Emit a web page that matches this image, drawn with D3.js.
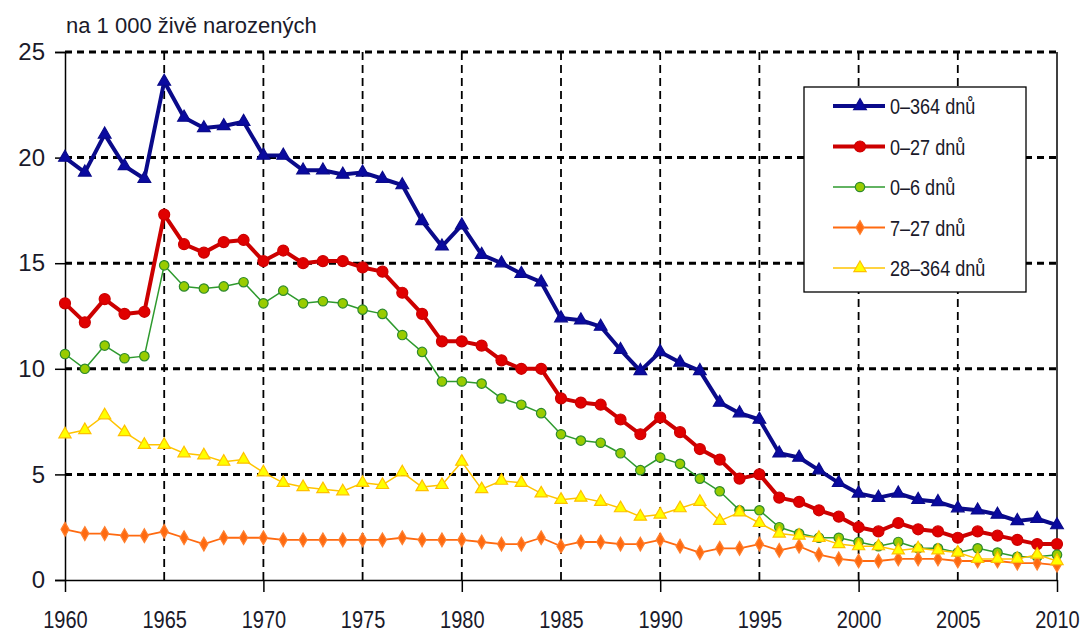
<!doctype html>
<html lang="cs">
  <head>
    <meta charset="utf-8">
    <title>Kojenecká úmrtnost</title>
    <script src="https://cdnjs.cloudflare.com/ajax/libs/d3/7.8.5/d3.min.js"></script>
    <style>
      body { margin: 0; background: #fff; }
      text { font-family: "Liberation Sans", Arial, sans-serif; fill: #1a1a2a; }
    </style>
  </head>
  <body>
    <div id="chart"></div>
    <script>
      // years 1960 - 2010
      var years = d3.range(1960, 2011);

      var s0_364 = [20.0, 19.3, 21.1, 19.6, 19.0, 23.6, 21.9, 21.4, 21.5, 21.7,
                    20.1, 20.1, 19.4, 19.4, 19.2, 19.3, 19.0, 18.7, 17.0, 15.8,
                    16.8, 15.4, 15.0, 14.5, 14.1, 12.4, 12.3, 12.0, 10.9, 9.9,
                    10.8, 10.3, 9.9, 8.4, 7.9, 7.6, 6.0, 5.8, 5.2, 4.6,
                    4.1, 3.9, 4.1, 3.8, 3.7, 3.4, 3.3, 3.1, 2.8, 2.9, 2.6];

      var s0_27 = [13.1, 12.2, 13.3, 12.6, 12.7, 17.3, 15.9, 15.5, 16.0, 16.1,
                   15.1, 15.6, 15.0, 15.1, 15.1, 14.8, 14.6, 13.6, 12.6, 11.3,
                   11.3, 11.1, 10.4, 10.0, 10.0, 8.6, 8.4, 8.3, 7.6, 6.9,
                   7.7, 7.0, 6.2, 5.7, 4.8, 5.0, 3.9, 3.7, 3.3, 3.0,
                   2.5, 2.3, 2.7, 2.4, 2.3, 2.0, 2.3, 2.1, 1.9, 1.7, 1.7];

      var s0_6 = [10.7, 10.0, 11.1, 10.5, 10.6, 14.9, 13.9, 13.8, 13.9, 14.1,
                  13.1, 13.7, 13.1, 13.2, 13.1, 12.8, 12.6, 11.6, 10.8, 9.4,
                  9.4, 9.3, 8.6, 8.3, 7.9, 6.9, 6.6, 6.5, 6.0, 5.2,
                  5.8, 5.5, 4.8, 4.2, 3.3, 3.3, 2.5, 2.2, 2.0, 2.0,
                  1.8, 1.6, 1.8, 1.5, 1.5, 1.3, 1.5, 1.3, 1.1, 1.1, 1.2];

      var s7_27 = [2.4, 2.2, 2.2, 2.1, 2.1, 2.3, 2.0, 1.7, 2.0, 2.0,
                   2.0, 1.9, 1.9, 1.9, 1.9, 1.9, 1.9, 2.0, 1.9, 1.9,
                   1.9, 1.8, 1.7, 1.7, 2.0, 1.6, 1.8, 1.8, 1.7, 1.7,
                   1.9, 1.6, 1.3, 1.5, 1.5, 1.7, 1.4, 1.6, 1.2, 1.0,
                   0.9, 0.9, 1.0, 1.0, 1.0, 0.9, 0.9, 0.9, 0.8, 0.8, 0.7];

      var s28_364 = [6.9, 7.1, 7.8, 7.0, 6.4, 6.4, 6.0, 5.9, 5.6, 5.7,
                     5.1, 4.6, 4.4, 4.3, 4.2, 4.6, 4.5, 5.1, 4.4, 4.5,
                     5.6, 4.3, 4.7, 4.6, 4.1, 3.8, 3.9, 3.7, 3.4, 3.0,
                     3.1, 3.4, 3.7, 2.8, 3.2, 2.7, 2.2, 2.1, 2.0, 1.7,
                     1.6, 1.6, 1.4, 1.5, 1.4, 1.3, 1.0, 1.0, 1.0, 1.2, 0.9];

      var seriesNames = ["0–364 dnů", "0–27 dnů", "0–6 dnů", "7–27 dnů", "28–364 dnů"];
      var yTicks = [0, 5, 10, 15, 20, 25];
      var xTicks = d3.range(1960, 2011, 5);

      var series = [
        { name: seriesNames[0], values: s0_364, line: "#0a0a8a", width: 4, symbol: d3.symbolTriangle, size: 70, fill: "#0a0aa0", stroke: "#0a0a8a" },
        { name: seriesNames[1], values: s0_27, line: "#cc0000", width: 4, symbol: d3.symbolCircle, size: 95, fill: "#e00000", stroke: "#cc0000" },
        { name: seriesNames[2], values: s0_6, line: "#2e9a2e", width: 1.5, symbol: d3.symbolCircle, size: 70, fill: "#99cc00", stroke: "#2e8a2e" },
        { name: seriesNames[3], values: s7_27, line: "#ff6a10", width: 1.8, symbol: d3.symbolDiamond, size: 55, fill: "#ff6a10", stroke: "#ff8030" },
        { name: seriesNames[4], values: s28_364, line: "#ffc400", width: 1.5, symbol: d3.symbolTriangle, size: 65, fill: "#ffff00", stroke: "#ffc000" }
      ];

      var width = 1088, height = 639;
      var margin = { top: 52, right: 31, bottom: 59, left: 65 };

      var svg = d3.select("#chart").append("svg")
          .attr("width", width)
          .attr("height", height);

      var x = d3.scaleLinear()
          .domain([1960, 2010])
          .range([margin.left, width - margin.right]);

      var y = d3.scaleLinear()
          .domain([0, 25])
          .range([height - margin.bottom, margin.top]);

      // unit label
      svg.append("text")
          .attr("x", 66)
          .attr("y", 33)
          .style("font-size", "22px")
          .text("na 1 000 živě narozených");

      // vertical dashed gridlines every 5 years
      svg.append("g")
        .selectAll("line")
        .data(xTicks.filter(d => d > 1960 && d < 2010))
        .enter().append("line")
          .attr("x1", d => x(d))
          .attr("x2", d => x(d))
          .attr("y1", y(25))
          .attr("y2", y(0))
          .attr("stroke", "#000")
          .attr("stroke-width", 1.8)
          .attr("stroke-dasharray", "8,5");

      // horizontal dashed gridlines
      svg.append("g")
        .selectAll("line")
        .data(yTicks.filter(d => d > 0))
        .enter().append("line")
          .attr("x1", x(1960))
          .attr("x2", x(2010))
          .attr("y1", d => y(d))
          .attr("y2", d => y(d))
          .attr("stroke", "#000")
          .attr("stroke-width", 3)
          .attr("stroke-dasharray", "7,5");

      // right border
      svg.append("line")
          .attr("x1", x(2010)).attr("x2", x(2010))
          .attr("y1", y(25)).attr("y2", y(0))
          .attr("stroke", "#000").attr("stroke-width", 1.5);

      // y axis
      var yAxis = svg.append("g")
          .attr("transform", "translate(" + x(1960) + ",0)")
          .call(d3.axisLeft(y).tickValues(yTicks).tickSize(10).tickPadding(10));
      yAxis.select(".domain").attr("stroke-width", 1.5);
      yAxis.selectAll(".tick line").attr("stroke-width", 1.5);
      yAxis.selectAll("text").style("font-size", "24px").attr("fill", "#1a1a2a");

      // x axis, long ticks every 10 years
      var xAxis = svg.append("g")
          .attr("transform", "translate(0," + y(0) + ")")
          .call(d3.axisBottom(x).tickValues(xTicks).tickFormat(d3.format("d")).tickSize(0).tickPadding(32));
      xAxis.select(".domain").attr("stroke-width", 1.5);
      xAxis.selectAll(".tick line")
          .attr("y2", d => (d % 10 === 0 ? 12 : 0))
          .attr("stroke-width", 1.5);
      xAxis.selectAll("text")
          .style("font-size", "23px")
          .attr("fill", "#1a1a2a")
          .attr("transform", "scale(0.87,1)");

      // lines and markers
      var line = d3.line()
          .x((d, i) => x(years[i]))
          .y(d => y(d));

      series.forEach(function (s) {
        var g = svg.append("g");
        g.append("path")
            .datum(s.values)
            .attr("fill", "none")
            .attr("stroke", s.line)
            .attr("stroke-width", s.width)
            .attr("stroke-linejoin", "round")
            .attr("d", line);
        g.selectAll("path.mark")
          .data(s.values)
          .enter().append("path")
            .attr("class", "mark")
            .attr("transform", (d, i) => "translate(" + x(years[i]) + "," + y(d) + ")")
            .attr("d", d3.symbol().type(s.symbol).size(s.size))
            .attr("fill", s.fill)
            .attr("stroke", s.stroke)
            .attr("stroke-width", 1.2);
      });

      // legend
      var legend = svg.append("g").attr("transform", "translate(804,87)");
      legend.append("rect")
          .attr("width", 222)
          .attr("height", 205)
          .attr("fill", "#fff")
          .attr("stroke", "#000")
          .attr("stroke-width", 1.3);

      series.forEach(function (s, i) {
        var ly = 19 + i * 40.5;
        legend.append("line")
            .attr("x1", 29).attr("x2", 81)
            .attr("y1", ly).attr("y2", ly)
            .attr("stroke", s.line)
            .attr("stroke-width", s.width);
        legend.append("path")
            .attr("transform", "translate(56," + ly + ")")
            .attr("d", d3.symbol().type(s.symbol).size(s.size))
            .attr("fill", s.fill)
            .attr("stroke", s.stroke)
            .attr("stroke-width", 1.2);
        legend.append("text")
            .attr("transform", "translate(86," + (ly + 8) + ") scale(0.82,1)")
            .style("font-size", "22px")
            .text(s.name);
      });
    </script>
  </body>
</html>
